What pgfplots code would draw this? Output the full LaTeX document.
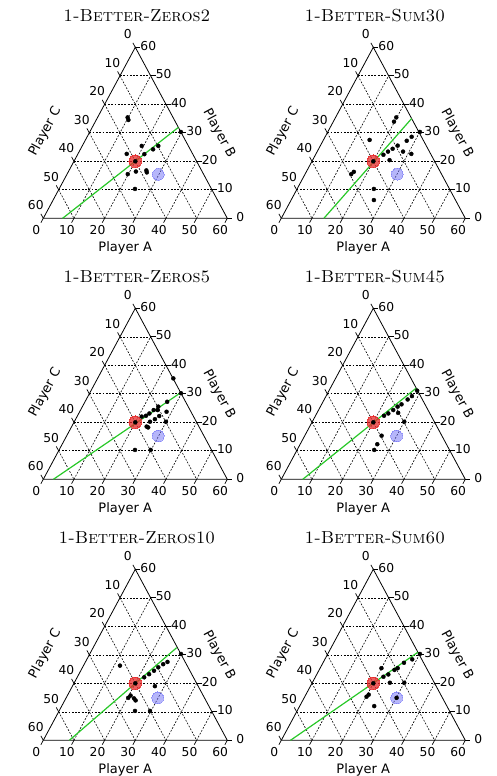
\documentclass[border=0pt]{standalone}
\usepackage{fontspec}
\usepackage{pgfplots}
\usepackage{pgfplotstable}
\pgfplotsset{compat=1.18}
\usetikzlibrary{calc}
\newfontfamily\dvs{DejaVu Sans}
\definecolor{tgreen}{RGB}{40,200,40}
\definecolor{tred}{RGB}{230,40,40}
\definecolor{tblue}{RGB}{110,110,245}

% ---- data: (a,b) = (Player A, Player B); Player C = 60 - a - b ----
\pgfplotstableread{
a b
20 20
}\redpt

\pgfplotstableread{
a b s
20 20 3.5
29.7 30.3 2.0
24.8 25.4 2.8
23.7 24.2 1.7
21.7 22.5 2.0
19.4 25.4 1.3
15.9 22.6 1.3
22.0 16.4 1.3
25.7 16.1 1.3
25.2 16.8 1.2
24.75 10.3 1.3
9.8 35.4 1.2
10.5 34.5 1.0
19.8 15.5 1.3
}\dotsA
\pgfplotstableread{
a b
6.3 0
28.1 31.9
}\lineA
\pgfplotstableread{
a b
29.8 15.4
}\blueA

\pgfplotstableread{
a b s
20 20 3.5
30.05 30.3 2.0
25.2 25.5 2.8
24.1 24.4 2.6
23.1 23.4 2.2
22.15 22.3 2.0
25.1 20.4 2.0
27.3 27.2 1.2
28.2 28.6 1.2
19.8 35.4 1.2
19.8 33.9 1.2
28.0 23.4 1.2
31.1 22.6 1.1
15.05 27.5 1.2
15.05 15.5 1.2
15.5 16.3 1.0
25.05 10.3 2.0
27.0 6.4 1.2
}\dotsB
\pgfplotstableread{
a b
13.9 0
25 35
}\lineB
\pgfplotstableread{
a b
30.05 15.5
}\blueB

\pgfplotstableread{
a b s
20 20 3.5
29.8 30.2 2.0
24.75 25.5 2.8
25.15 24.3 2.0
23.85 24.3 2.0
23.05 23.1 2.0
22.35 22.3 1.8
21.1 22.0 1.3
29.9 20.2 2.0
25.85 21.1 1.2
24.7 20.2 1.2
24.45 18.5 1.2
28.35 23.7 1.2
24.7 35.4 1.2
26.8 27.2 1.2
26.7 22.2 1.2
25.1 18.2 1.2
24.75 10.3 1.2
29.85 10.3 1.2
}\dotsC
\pgfplotstableread{
a b
3.3 0
29.6 30.4
}\lineC
\pgfplotstableread{
a b
29.9 15.2
}\blueC

\pgfplotstableread{
a b s
20 20 3.5
28.75 31.1 1.7
25.2 25.5 2.8
24.35 24.3 2.2
26.45 23.3 1.2
26.05 26.3 1.2
27.2 28.0 1.2
28.0 29.2 1.2
23.35 23.1 1.8
22.35 22.3 2.0
30.0 20.2 2.0
25.05 15.3 2.0
25.15 12.3 1.2
25.15 10.3 2.0
}\dotsD
\pgfplotstableread{
a b
7 0
28 32
}\lineD
\pgfplotstableread{
a b
30 15.2
}\blueD

\pgfplotstableread{
a b s
20 20 3.5
29.75 30.3 2.0
24.7 25.6 2.8
23.9 24.4 2.4
22.9 23.2 2.0
21.85 22.1 2.0
25.75 26.7 1.2
26.75 27.5 1.2
11.9 26.2 1.2
26.9 19.0 1.2
20.25 14.9 1.2
20.6 15.7 1.0
22.25 14.7 1.2
23.1 14.0 1.2
24.75 10.3 2.0
29.65 10.3 1.2
}\dotsE
\pgfplotstableread{
a b
8.5 0
27.25 32.5
}\lineE
\pgfplotstableread{
a b
29.85 14.9
}\blueE

\pgfplotstableread{
a b s
20 20 3.5
30.05 30.3 2.0
25.3 25.3 2.8
24.55 24.7 2.2
23.35 23.1 2.0
22.15 22.3 1.2
26.4 27.2 1.2
28.5 28.4 1.2
20.0 25.3 1.2
25.3 20.2 1.2
30.0 20.2 1.2
20.15 15.3 2.0
20.5 16.0 1.2
24.3 12.0 1.2
30.15 14.9 2.0
}\dotsF
\pgfplotstableread{
a b
3 0
29.1 30.9
}\lineF
\pgfplotstableread{
a b
30.15 14.9
}\blueF

\tikzset{
  tl/.style={font=\dvs\fontsize{12.3}{14}\selectfont, inner sep=0pt},
  al/.style={font=\dvs\fontsize{13}{15}\selectfont, inner sep=0pt},
  gridl/.style={line width=0.6pt, dash pattern=on 1.8pt off 1.5pt},
}
\pgfplotsset{
  tern/.style={scale only axis, width=184pt, height=171pt,
    xmin=0, xmax=60, ymin=0, ymax=60, hide axis, clip=false, anchor=south west},
  dots/.style={scatter, only marks, mark=*,
    visualization depends on={\thisrow{s}\as\ms},
    scatter/@pre marker code/.append style={/tikz/mark size=\ms},
    scatter/use mapped color={draw=black, fill=black}},
  disc/.style n args={2}{only marks, mark=*, color=#1,
    mark options={solid, draw=#1, fill=#1, line width=0pt, opacity=#2}},
}

\newcommand\ternplot[2]{\addplot[#1] table[x expr=\thisrow{a}+0.5*\thisrow{b}, y=b] {#2};}

\newcommand\ternframe{%
  \pgfplotsinvokeforeach{10,20,30,40,50}{
    \draw[gridl] ($(axis cs:0,0)!##1/60!(axis cs:30,60)$) -- ($(axis cs:60,0)!##1/60!(axis cs:30,60)$);
    \draw[gridl] (axis cs:##1,0) -- ($(axis cs:60,0)!1-##1/60!(axis cs:30,60)$);
    \draw[gridl] ($(axis cs:30,60)!##1/60!(axis cs:0,0)$) -- ($(axis cs:60,0)!##1/60!(axis cs:0,0)$);
  }
  \draw[line width=0.8pt, line join=miter] (axis cs:0,0) -- (axis cs:60,0) -- (axis cs:30,60) -- cycle;
  \pgfplotsinvokeforeach{0,10,20,30,40,50,60}{
    \draw[line width=0.7pt] (axis cs:##1,0) -- ++(-2.4pt,-4.4pt);
    \path (axis cs:##1,0) ++(-7.1pt,-11.7pt) node[tl] {##1};
    \draw[line width=0.7pt] ($(axis cs:60,0)!##1/60!(axis cs:30,60)$) -- ++(5pt,0pt);
    \path ($(axis cs:60,0)!##1/60!(axis cs:30,60)$) ++(13pt,1.5pt) node[tl] {##1};
    \draw[line width=0.7pt] ($(axis cs:30,60)!##1/60!(axis cs:0,0)$) -- ++(-2.4pt,4.4pt);
    \path ($(axis cs:30,60)!##1/60!(axis cs:0,0)$) ++(-7.5pt,13pt) node[tl] {##1};
  }
  \node[al] at (axis cs:26.7,-10.5) {Player A};
  \node[al, rotate=-61.8] at (axis cs:57.3,29.8) {Player B};
  \node[al, rotate=61.8] at (axis cs:0.6,30.4) {Player C};
}

\newcommand\ternpanel[6]{%
\begin{axis}[tern, at={(#1,#2)}]
  \ternframe
  \ternplot{tgreen, line width=1.2pt, no marks}{#5}
  \ternplot{disc={tred}{0.75}, mark size=6.3pt}{\redpt}
  \ternplot{disc={tblue}{0.5}, mark size=5.9pt}{#6}
  \ternplot{dots}{#4}
  \node[font=\fontsize{17.4}{19}\selectfont, inner sep=0pt] at (axis cs:30.5,71) {\textsc{#3}};
\end{axis}}

\begin{document}
\begin{tikzpicture}
\path[use as bounding box] (0,0) rectangle (497pt,776pt);
\ternpanel{43.3pt}{557.7pt}{1-Better-Zeros2}{\dotsA}{\lineA}{\blueA}
\ternpanel{281.3pt}{557.7pt}{1-Better-Sum30}{\dotsB}{\lineB}{\blueB}
\ternpanel{43.3pt}{296.7pt}{1-Better-Zeros5}{\dotsC}{\lineC}{\blueC}
\ternpanel{281.3pt}{296.7pt}{1-Better-Sum45}{\dotsD}{\lineD}{\blueD}
\ternpanel{43.3pt}{35.7pt}{1-Better-Zeros10}{\dotsE}{\lineE}{\blueE}
\ternpanel{281.3pt}{35.7pt}{1-Better-Sum60}{\dotsF}{\lineF}{\blueF}
\end{tikzpicture}
\end{document}
